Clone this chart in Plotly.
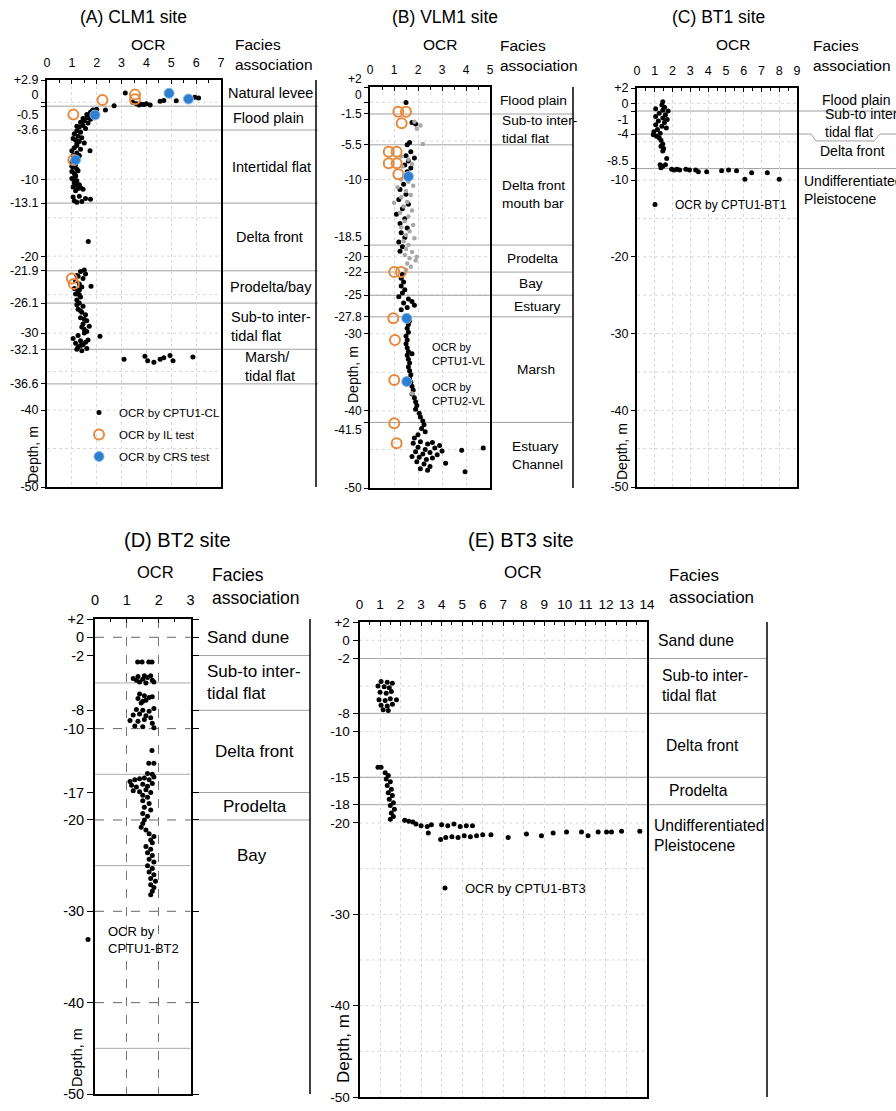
import plotly.graph_objects as go

W, H = 896, 1111
FONT = "Liberation Sans, Arial, sans-serif"

# ---------------------------------------------------------------- data
# (A) CLM1 site
a_cptu_ocr = [3.15, 3.45, 3.6, 3.8, 4.0, 4.15, 3.7, 3.9, 4.55, 4.7, 5.2, 5.95, 6.1, 2.7, 2.35,
              2.0, 1.85, 1.75, 1.9, 1.7, 1.6, 1.75, 1.5, 1.65, 1.45, 1.3, 1.55, 1.2, 1.35, 1.1,
              1.25, 1.4, 1.15, 1.3, 1.5, 1.2, 1.1, 1.35, 1.73, 1.2, 1.05, 1.25, 1.1, 1.0, 1.15,
              1.05, 1.2, 1.0, 1.1, 1.15, 1.0, 1.2, 1.1, 1.3, 1.05, 1.25, 1.45, 1.15,
              1.8, 1.6, 1.45, 1.35, 1.2, 1.05, 1.2, 1.0, 1.3, 1.1, 1.0, 1.25, 1.15, 1.05, 1.2, 1.35,
              1.05, 1.3, 1.55, 1.1, 1.4, 1.75, 1.2,
              1.66,
              1.5, 1.35, 1.55, 1.25, 1.45, 1.15, 1.3, 1.77, 1.1, 1.25, 1.15, 1.35, 1.2, 1.3, 1.45,
              1.25, 1.4, 1.55, 1.35, 1.6, 1.45, 1.7, 1.5, 1.6, 2.13, 1.25, 1.05, 1.35, 1.15, 1.45,
              1.25, 1.6, 1.4,
              1.2, 1.4, 1.3, 1.2, 1.35, 1.5, 1.4, 1.5, 1.65, 1.55, 1.35, 1.2, 1.3,
              3.1, 3.94, 4.05, 4.3, 4.55, 4.7, 4.95, 5.07, 5.87]
a_cptu_depth = [1.2, 0.0, -0.2, -0.25, -0.2, -0.35, -0.35, -0.3, 0.15, 0.25, 0.2, 0.65, 0.55, -0.45, -1.0,
                -0.9, -1.0, -1.3, -1.5, -1.7, -2.0, -2.2, -2.4, -2.7, -3.0, -3.2, -3.4, -3.7, -3.9, -4.1,
                -4.4, -4.6, -4.9, -5.1, -5.3, -5.6, -5.9, -6.1, -6.3, -6.6, -6.9, -7.1, -7.4, -7.8, -8.1,
                -8.4, -8.7, -9.0, -9.3, -9.6, -9.9, -10.2, -10.5, -10.7, -11.0, -11.2, -11.3, -11.5,
                -1.2, -1.6, -2.1, -2.6, -3.1, -4.7, -5.4, -6.3, -6.9, -7.6, -8.3, -8.9, -9.5, -10.0, -10.8, -11.1,
                -12.3, -12.2, -12.5, -12.8, -12.9, -12.6, -13.0,
                -18.1,
                -21.8, -22.0, -22.3, -22.6, -22.9, -23.2, -23.6, -23.9, -24.2, -24.5, -24.9, -25.3, -25.7, -26.1, -26.5,
                -26.9, -27.3, -27.6, -28.0, -28.4, -28.8, -29.1, -29.5, -29.8, -30.4, -30.3, -30.7, -31.0, -31.3, -31.5,
                -31.8, -32.0, -32.3,
                -22.5, -24.0, -25.0, -26.3, -27.1, -28.2, -29.2, -30.0, -30.9, -31.2, -31.6, -32.1, -24.4,
                -33.4, -33.0, -33.6, -33.8, -33.4, -33.2, -32.9, -33.6, -33.1]
a_il_ocr = [3.54, 3.54, 2.23, 1.06, 1.06, 1.0, 1.08]
a_il_depth = [1.0, 0.4, 0.3, -1.6, -7.5, -22.9, -23.6]
a_crs_ocr = [4.91, 5.69, 1.93, 1.15]
a_crs_depth = [1.17, 0.43, -1.65, -7.5]

# (B) VLM1 site
b_cptu1_ocr = [1.5, 1.9, 1.75, 1.65, 1.55, 1.7, 1.5, 1.85, 1.6, 1.45, 1.7, 1.55,
               1.4, 1.25, 1.5, 1.2, 1.6, 1.35, 1.1, 1.45, 1.25, 1.55, 1.3, 1.45, 1.2, 1.35, 1.25,
               1.35, 1.3, 1.4, 1.3, 1.45, 1.35, 1.2, 1.6, 1.75, 1.4, 1.85, 1.55, 1.3,
               1.55, 1.65, 1.6, 1.55, 1.6, 1.5, 1.55, 1.5, 1.55, 1.6, 1.55, 1.6, 1.65, 1.6, 1.65,
               1.7, 1.65, 1.7, 1.75, 1.8, 1.75, 1.85, 1.9, 1.95, 1.9, 2.05, 2.1, 2.2, 2.25, 2.15,
               2.3, 2.0, 1.85,
               1.8, 2.1, 2.4, 2.6, 2.0, 2.3, 2.7, 1.9, 2.2, 2.5, 2.8, 2.05, 2.35, 2.6, 1.95, 2.25,
               2.5, 2.1, 2.4, 3.0, 3.15, 1.75, 2.9,
               3.82, 4.72, 3.96]
b_cptu1_depth = [0.0, -2.8, -2.6, -5.2, -5.5, -6.4, -6.9, -7.2, -7.6, -8.1, -8.5, -9.0,
                 -10.6, -11.3, -11.9, -12.6, -13.2, -13.8, -14.5, -15.1, -15.7, -16.3, -16.9, -17.5, -18.1, -18.7, -19.3,
                 -22.3, -22.8, -23.3, -23.8, -24.3, -24.7, -25.2, -25.5, -25.8, -26.0, -26.3, -26.6, -26.9,
                 -27.8, -28.3, -28.8, -29.3, -29.8, -30.3, -30.8, -31.3, -31.8, -32.3, -32.8, -33.3, -33.8, -34.3, -34.8,
                 -35.3, -35.8, -36.3, -36.8, -37.3, -37.8, -38.3, -38.8, -39.3, -39.8, -40.3, -40.8, -41.3, -41.8, -42.3,
                 -42.7, -43.1, -43.5,
                 -44.2, -44.0, -44.3, -44.1, -44.7, -45.0, -44.8, -45.3, -45.6, -45.4, -45.7, -46.0, -46.3, -46.1, -46.6, -46.9,
                 -47.2, -47.5, -47.7, -45.2, -46.8, -45.9, -44.5,
                 -45.1, -44.8, -47.9]
b_cptu2_ocr = [1.85, 2.1, 1.95, 2.2, 1.3, 1.6, 1.75, 1.35,
               1.3, 1.6, 1.8, 1.15, 1.5, 1.7, 1.3, 1.55, 1.0, 1.4, 1.75, 1.25, 1.6, 1.45, 1.8, 1.3,
               1.65, 1.5, 1.85, 1.4, 1.6, 1.5, 1.75, 1.45, 1.65, 1.9, 1.55, 1.7, 1.5, 1.95]
b_cptu2_depth = [-2.5, -3.0, -3.4, -5.4, -7.0, -7.4, -8.0, -8.3,
                 -10.0, -10.3, -10.8, -11.0, -11.5, -12.0, -12.3, -12.9, -13.0, -13.5, -14.0, -14.3, -14.8, -15.4, -15.9, -16.2,
                 -16.7, -17.2, -17.6, -18.0, -18.5, -19.0, -19.4, -19.8, -20.2, -20.5, -20.9, -21.3, -21.7, -20.0]
b_il_ocr = [1.18, 1.5, 1.32, 0.78, 1.11, 0.78, 1.11, 1.18, 1.01, 1.29, 0.97, 1.04, 1.01, 1.01, 1.11]
b_il_depth = [-1.2, -1.2, -2.7, -6.4, -6.4, -7.9, -7.9, -9.3, -22.0, -22.0, -28.0, -30.8, -36.0, -41.6, -44.2]
b_crs_ocr = [1.6, 1.53, 1.53]
b_crs_depth = [-9.6, -28.0, -36.2]

# (C) BT1 site
c_cptu_ocr = [1.45, 1.4, 1.55, 1.05, 1.45, 1.75, 1.25, 1.6, 1.05, 1.45, 1.7, 1.2, 1.55, 1.05, 1.4,
              1.65, 1.15, 0.95, 1.3, 0.92, 1.1, 1.25, 1.35, 1.45, 1.35, 1.5, 1.45, 1.67,
              1.3, 1.45, 1.6, 1.35, 1.95, 2.1, 2.25, 2.4, 2.75, 2.95, 3.3, 3.45, 3.92, 4.76, 5.15, 5.6,
              6.07, 6.45, 7.33, 8.0]
c_cptu_depth = [0.2, -0.2, -0.5, -0.7, -0.9, -1.0, -1.3, -1.5, -1.7, -1.9, -2.1, -2.3, -2.5, -2.8, -3.0,
                -3.2, -3.4, -3.7, -3.9, -4.1, -4.3, -4.5, -4.8, -5.3, -5.6, -5.9, -6.2, -7.2,
                -8.0, -8.2, -8.0, -8.4, -8.6, -8.7, -8.6, -8.7, -8.6, -8.7, -8.7, -8.9, -8.9, -8.8, -8.7, -8.8,
                -9.9, -9.05, -9.05, -9.9]

# (D) BT2 site
d_cptu_ocr = [1.34, 1.48, 1.69, 1.79,
              1.2, 1.35, 1.5, 1.65, 1.8, 1.4, 1.6, 1.75, 1.3, 1.85, 1.55,
              1.4, 1.55, 1.35, 1.7, 1.5, 1.6, 1.45, 1.8,
              1.3, 1.5, 1.7, 1.85, 1.2, 1.4, 1.6, 1.75, 1.1, 1.35, 1.55, 1.8, 1.25, 1.5, 1.85,
              1.79, 1.69, 1.85, 1.65, 1.8,
              1.1, 1.25, 1.4, 1.55, 1.7, 1.85, 1.15, 1.3, 1.5, 1.65, 1.8, 1.2, 1.4, 1.6, 1.75, 1.5, 1.65,
              1.5, 1.7, 1.55, 1.75, 1.5, 1.65, 1.55, 1.5, 1.45, 1.6,
              1.7, 1.85, 1.75, 1.8, 1.6, 1.75, 1.65, 1.8, 1.7, 1.85, 1.65, 1.8, 1.7, 1.85, 1.75, 1.9,
              1.75, 1.85, 1.8, 1.75]
d_cptu_depth = [-2.7, -2.7, -2.7, -2.7,
                -4.5, -4.3, -4.6, -4.4, -4.7, -4.9, -5.0, -4.2, -4.7, -4.9, -4.2,
                -6.2, -6.4, -6.7, -6.6, -7.0, -6.9, -7.2, -6.5,
                -7.9, -8.0, -8.1, -7.8, -8.5, -8.4, -8.6, -8.8, -9.1, -9.2, -9.0, -9.4, -9.7, -9.8, -9.9,
                -12.4, -13.8, -13.8, -14.9, -15.0,
                -15.8, -15.6, -15.5, -15.4, -15.6, -15.3, -16.2, -16.4, -16.1, -16.3, -16.0, -16.8, -16.9, -16.7, -17.0, -17.3, -17.5,
                -17.9, -18.2, -18.6, -18.9, -19.3, -19.6, -20.0, -20.4, -20.8, -21.1,
                -21.5, -21.8, -22.2, -22.5, -22.9, -23.2, -23.6, -23.9, -24.3, -24.6, -25.0, -25.3, -25.7, -26.0, -26.4, -26.7,
                -27.1, -27.4, -27.8, -28.2]

# (E) BT3 site
e_cptu_ocr = [1.05, 1.35, 1.6, 0.9, 1.2, 1.45, 1.0, 1.3, 1.55, 0.95, 1.25, 1.5, 1.8, 1.05, 1.35, 1.6, 1.15, 1.4,
              0.9, 1.05,
              1.25, 1.4, 1.3, 1.5, 1.35, 1.55, 1.4, 1.6, 1.45, 1.65, 1.5, 1.7, 1.55, 1.65, 1.5,
              2.2, 2.4, 2.6, 2.75, 3.0, 3.3, 3.5, 4.0, 4.3, 4.6, 4.9, 5.2, 5.5, 3.35,
              3.95, 4.2, 4.5, 4.8, 5.1, 5.4, 5.7, 6.0, 6.4,
              7.24, 8.13, 8.86, 9.43, 10.08, 10.81, 11.13, 11.62, 12.03, 12.27, 12.76, 13.65]
e_cptu_depth = [-4.5, -4.6, -4.7, -5.0, -5.1, -5.2, -5.7, -5.8, -5.6, -6.5, -6.6, -6.4, -6.5, -7.1, -7.2, -7.0, -7.6, -7.7,
                -13.9, -13.9,
                -14.5, -14.8, -15.2, -15.5, -15.9, -16.3, -16.7, -17.0, -17.4, -17.8, -18.1, -18.5, -18.9, -19.3, -19.6,
                -19.7, -19.8, -19.9, -20.1, -20.3, -20.4, -20.2, -20.2, -20.3, -20.1, -20.4, -20.3, -20.3, -21.1,
                -21.8, -21.6, -21.5, -21.6, -21.4, -21.5, -21.4, -21.3, -21.3,
                -21.6, -21.2, -21.4, -21.1, -21.0, -21.0, -21.4, -21.0, -21.0, -21.0, -20.9, -20.9]

# facies associations: names and boundary depths (top of first unit, then each lower boundary)
a_facies = ["Natural levee", "Flood plain", "Intertidal flat", "Delta front", "Prodelta/bay",
            "Sub-to inter-<br>tidal flat", "Marsh/<br>tidal flat"]
a_bounds = [2.9, -0.5, -3.6, -13.1, -21.9, -26.1, -32.1, -36.6]
b_facies = ["Flood plain", "Sub-to inter-<br>tidal flat", "Delta front<br>mouth bar", "Prodelta", "Bay",
            "Estuary", "Marsh", "Estuary<br>Channel"]
b_bounds = [2, -1.5, -5.5, -18.5, -22, -25, -27.8, -41.5]
c_facies = ["Flood plain", "Sub-to inter-<br>tidal flat", "Delta front", "Undifferentiated<br>Pleistocene"]
c_bounds = [2, -1, -4, -8.5]
d_facies = ["Sand dune", "Sub-to inter-<br>tidal flat", "Delta front", "Prodelta", "Bay"]
d_bounds = [2, -2, -8, -17, -20]
e_facies = ["Sand dune", "Sub-to inter-<br>tidal flat", "Delta front", "Prodelta", "Undifferentiated<br>Pleistocene"]
e_bounds = [2, -2, -8, -15, -18]

# depth tick labels
NB = "\u00a0"
a_ticks = [2.9, 0, -0.5, -3.6, -10, -13.1, -20, -21.9, -26.1, -30, -32.1, -36.6, -40, -50]
a_ticktext = ["+2.9", "0<br>" + NB, "<br>-0.5", "-3.6", "-10", "-13.1", "-20", "-21.9", "-26.1", "-30",
              "-32.1", "-36.6", "-40", "-50"]
b_ticks = [2, 0, -1.5, -5.5, -10, -18.5, -20, -22, -25, -27.8, -30, -40, -41.5, -50]
b_ticktext = ["+2<br>" + NB, "0<br>" + NB, "-1.5", "-5.5", "-10", "-18.5<br>" + NB, "-20", "-22", "-25", "-27.8",
              "-30", "-40", "<br>-41.5", "-50"]
c_ticks = [2, 0, -1, -4, -8.5, -10, -20, -30, -40, -50]
c_ticktext = ["+2", "0", "<br>-1", "-4", "-8.5<br>" + NB, "-10", "-20", "-30", "-40", "-50"]
d_ticks = [2, 0, -2, -8, -10, -17, -20, -30, -40, -50]
d_ticktext = ["+2", "0", "-2", "-8", "-10", "-17", "-20", "-30", "-40", "-50"]
e_ticks = [2, 0, -2, -8, -10, -15, -18, -20, -30, -40, -50]
e_ticktext = ["+2", "0", "-2", "-8", "-10", "-15", "-18", "-20", "-30", "-40", "-50"]

titles = ["(A) CLM1 site", "(B) VLM1 site", "(C) BT1 site", "(D) BT2 site", "(E) BT3 site"]
ocr_max = [7, 5, 9, 3, 14]

# ---------------------------------------------------------------- layout config (pixels)
def fx(p):
    return p / W


def fy(p):
    return 1 - p / H


PANELS = [
    dict(box=(47, 221, 80, 487), ytop=2.9, ticks=(a_ticks, a_ticktext), facies=(a_facies, a_bounds),
         tick_size=12.5, title_xy=(133, 17), title_size=17.5, ocr_xy=(148, 45), ocr_size=15.5,
         hdr_xy=(233, 54), hdr_size=15.5, col_right=316, line_span=(47, 318), fac_size=14.5,
         fac_pos=[(270, "center"), (268, "center"), (271, "center"), (269, "center"), (271, "center"),
                  (229, "left"), (243, "left")], last_off=None,
         depth_xy=(33, 455), depth_size=14, ticklen=4, grid="light", skip_grid=[]),
    dict(box=(370, 490, 87, 488), ytop=2, ticks=(b_ticks, b_ticktext), facies=(b_facies, b_bounds),
         tick_size=12, title_xy=(445, 17), title_size=17.5, ocr_xy=(440, 44), ocr_size=15.5,
         hdr_xy=(498, 55), hdr_size=15.5, col_right=573, line_span=(370, 573), fac_size=13.7,
         fac_pos=[(533, "center"), (500, "left"), (500, "left"), (532, "center"), (531, "center"),
                  (537, "center"), (536, "center"), (510, "left")], last_off=4.3,
         depth_xy=(353, 375), depth_size=14, ticklen=4, grid="light", skip_grid=[]),
    dict(box=(637, 797, 88, 487), ytop=2, ticks=(c_ticks, c_ticktext), facies=(c_facies, c_bounds),
         tick_size=12.5, title_xy=(718, 17), title_size=17.5, ocr_xy=(733, 45), ocr_size=15.5,
         hdr_xy=(811, 56), hdr_size=15.5, col_right=None, line_span=(637, 896), fac_size=14,
         fac_pos=[(820, "left"), (823, "left"), (818, "left"), (802, "left")], last_off=2.8,
         depth_xy=(622, 452), depth_size=14, ticklen=4, grid="light", skip_grid=[]),
    dict(box=(95, 190.5, 619, 1094), ytop=2, ticks=(d_ticks, d_ticktext), facies=(d_facies, d_bounds),
         tick_size=14.5, title_xy=(177, 540), title_size=20, ocr_xy=(155, 572), ocr_size=16.5,
         hdr_xy=(210, 586), hdr_size=17.5, col_right=310, line_span=(190.5, 310), fac_size=17,
         fac_pos=[(248, "center"), (205, "left"), (254, "center"), (255, "center"), (252, "center")],
         last_off=3.9, depth_xy=(77, 1058), depth_size=14.5, ticklen=6, grid="dash", skip_grid=[-35]),
    dict(box=(359.5, 647, 622, 1097), ytop=2, ticks=(e_ticks, e_ticktext), facies=(e_facies, e_bounds),
         tick_size=13.5, title_xy=(521, 540), title_size=20, ocr_xy=(523, 572), ocr_size=17,
         hdr_xy=(667, 586), hdr_size=17, col_right=767, line_span=(359.5, 767), fac_size=15.7,
         fac_pos=[(696, "center"), (660, "left"), (702, "center"), (698, "center"), (652, "left")],
         last_off=3.4, depth_xy=(343, 1049), depth_size=17, ticklen=5, grid="light", skip_grid=[]),
]

ORANGE = "#E8883A"
BLUE = "#2F7ED0"

series = [
    [("OCR by CPTU1-CL", a_cptu_ocr, a_cptu_depth, "cptu"),
     ("OCR by IL test", a_il_ocr, a_il_depth, "il"),
     ("OCR by CRS test", a_crs_ocr, a_crs_depth, "crs")],
    [("OCR by<br>CPTU1-VL", b_cptu1_ocr, b_cptu1_depth, "cptu"),
     ("OCR by<br>CPTU2-VL", b_cptu2_ocr, b_cptu2_depth, "cptu2"),
     ("IL test", b_il_ocr, b_il_depth, "il_nolegend"),
     ("CRS test", b_crs_ocr, b_crs_depth, "crs_nolegend")],
    [("OCR by CPTU1-BT1", c_cptu_ocr, c_cptu_depth, "cptu")],
    [("OCR by<br>CPTU1-BT2", d_cptu_ocr, d_cptu_depth, "cptu")],
    [("OCR by CPTU1-BT3", e_cptu_ocr, e_cptu_depth, "cptu")],
]

LEGENDS = [
    dict(xy=(79, 398), size=11.5, gap=3),
    dict(xy=(392, 333), size=11, gap=8),
    dict(xy=(635, 190), size=12, gap=4),
    dict(xy=(68, 916), size=13, gap=4),
    dict(xy=(425, 873), size=13, gap=4),
]

fig = go.Figure()
shapes = []
annotations = []
layout = {}

for i, P in enumerate(PANELS):
    n = i + 1
    xid = "x" if n == 1 else f"x{n}"
    yid = "y" if n == 1 else f"y{n}"
    xkey = "xaxis" if n == 1 else f"xaxis{n}"
    ykey = "yaxis" if n == 1 else f"yaxis{n}"
    lkey = "legend" if n == 1 else f"legend{n}"
    x0, x1, y0, y1 = P["box"]
    dash_grid = P["grid"] == "dash"

    layout[xkey] = dict(
        domain=[fx(x0), fx(x1)], range=[0, ocr_max[i]], anchor=yid, side="top", automargin=False,
        tickmode="linear", tick0=0, dtick=1, ticks="inside", ticklen=4, tickcolor="black",
        tickfont=dict(size=P["tick_size"], color="black", family=FONT), ticklabelstandoff=6,
        showgrid=True, gridcolor="#777777" if dash_grid else "#d9d9d9",
        griddash="dash" if dash_grid else "dot", gridwidth=1,
        showline=True, linecolor="black", linewidth=2, mirror=True, zeroline=False,
        minor=dict(dtick=0.5, ticks="inside", ticklen=2.5, tickcolor="black", showgrid=False),
        fixedrange=True,
    )
    tv, tt = P["ticks"]
    layout[ykey] = dict(
        domain=[fy(y1), fy(y0)], range=[-50, P["ytop"]], anchor=xid, automargin=False,
        tickmode="array", tickvals=tv, ticktext=tt, ticks="outside", ticklen=P["ticklen"],
        tickcolor="black", tickfont=dict(size=P["tick_size"], color="black", family=FONT),
        showgrid=False, zeroline=False, showline=True, linecolor="black", linewidth=2,
        mirror="ticks" if dash_grid else True, fixedrange=True,
    )

    # horizontal grid lines every 5 m
    for gd in range(0, -50, -5):
        if gd in P["skip_grid"]:
            continue
        if dash_grid:
            major = gd % 10 == 0
            shapes.append(dict(type="line", xref=f"{xid} domain", yref=yid, x0=0, x1=1, y0=gd, y1=gd,
                               line=dict(color="#666666" if major else "#aaaaaa", width=1,
                                         dash="dash" if major else "solid"), layer="below"))
        else:
            shapes.append(dict(type="line", xref=f"{xid} domain", yref=yid, x0=0, x1=1, y0=gd, y1=gd,
                               line=dict(color="#d9d9d9", width=1, dash="dot"), layer="below"))

    # facies boundaries and labels
    names, bounds = P["facies"]
    lx0, lx1 = P["line_span"]
    for b in bounds[1:]:
        if i == 2 and b == -4:
            continue
        shapes.append(dict(type="line", xref="paper", yref=yid, x0=fx(lx0), x1=fx(lx1), y0=b, y1=b,
                           line=dict(color="#a0a0a0", width=1), layer="below"))
    if i == 2:
        # the -4 m boundary in (C) steps around the "tidal flat" label
        shapes.append(dict(type="path", xref="paper", yref=yid, layer="below",
                           path=f"M {fx(637)},-4 L {fx(811)},-4 L {fx(816)},-4.9 L {fx(874)},-4.9 "
                                f"L {fx(880)},-4 L {fx(896)},-4",
                           line=dict(color="#a0a0a0", width=1)))
    for k, name in enumerate(names):
        top = bounds[k]
        bot = bounds[k + 1] if k + 1 < len(bounds) else bounds[k] - 2 * P["last_off"]
        yc = (top + bot) / 2
        xp, anc = P["fac_pos"][k]
        annotations.append(dict(text=name, xref="paper", yref=yid, x=fx(xp), y=yc, xanchor=anc,
                                yanchor="middle", align="left" if anc == "left" else "center",
                                showarrow=False, font=dict(size=P["fac_size"], color="black", family=FONT)))

    if P["col_right"] is not None:
        shapes.append(dict(type="line", xref="paper", yref=f"{yid} domain", x0=fx(P["col_right"]),
                           x1=fx(P["col_right"]), y0=0, y1=1, line=dict(color="black", width=1.5)))

    # texts
    annotations.append(dict(text=titles[i], xref="paper", yref="paper", x=fx(P["title_xy"][0]),
                            y=fy(P["title_xy"][1]), xanchor="center", yanchor="middle", showarrow=False,
                            font=dict(size=P["title_size"], color="black", family=FONT)))
    annotations.append(dict(text="OCR", xref="paper", yref="paper", x=fx(P["ocr_xy"][0]),
                            y=fy(P["ocr_xy"][1]), xanchor="center", yanchor="middle", showarrow=False,
                            font=dict(size=P["ocr_size"], color="black", family=FONT)))
    annotations.append(dict(text="Facies<br>association", xref="paper", yref="paper", x=fx(P["hdr_xy"][0]),
                            y=fy(P["hdr_xy"][1]), xanchor="left", yanchor="middle", align="left",
                            showarrow=False, font=dict(size=P["hdr_size"], color="black", family=FONT)))
    annotations.append(dict(text="Depth, m", xref="paper", yref="paper", x=fx(P["depth_xy"][0]),
                            y=fy(P["depth_xy"][1]), xanchor="center", yanchor="middle", textangle=-90,
                            showarrow=False, font=dict(size=P["depth_size"], color="black", family=FONT)))

    # data
    for name, xs, ys, kind in series[i]:
        if kind == "cptu":
            mk = dict(size=5, color="black", symbol="circle")
            show = True
        elif kind == "cptu2":
            mk = dict(size=4.5, color="#a8a8a8", symbol="circle")
            show = True
        elif kind.startswith("il"):
            mk = dict(size=10, color=ORANGE, symbol="circle-open", line=dict(width=2, color=ORANGE))
            show = not kind.endswith("nolegend")
        else:
            mk = dict(size=10, color=BLUE, symbol="circle", line=dict(width=1, color="#7fb6ea"))
            show = not kind.endswith("nolegend")
        fig.add_trace(go.Scatter(x=xs, y=ys, mode="markers", name=name, marker=mk, xaxis=xid, yaxis=yid,
                                 legend=lkey, showlegend=show, legendgroup=f"{n}-{name}", cliponaxis=True))

    L = LEGENDS[i]
    layout[lkey] = dict(x=fx(L["xy"][0]), y=fy(L["xy"][1]), xanchor="left", yanchor="top",
                        bgcolor="rgba(0,0,0,0)", borderwidth=0, tracegroupgap=L["gap"],
                        font=dict(size=L["size"], color="black", family=FONT), itemsizing="trace")

fig.update_layout(
    width=W, height=H, margin=dict(l=0, r=0, t=0, b=0, autoexpand=False),
    paper_bgcolor="white", plot_bgcolor="white",
    font=dict(family=FONT, color="black"), shapes=shapes, annotations=annotations, **layout,
)

# the page's default body margin would offset the figure; remove it
fig.write_html("out.html", config={"displayModeBar": False, "staticPlot": False},
               post_script="document.body.style.margin='0';document.body.style.overflow='hidden';")
